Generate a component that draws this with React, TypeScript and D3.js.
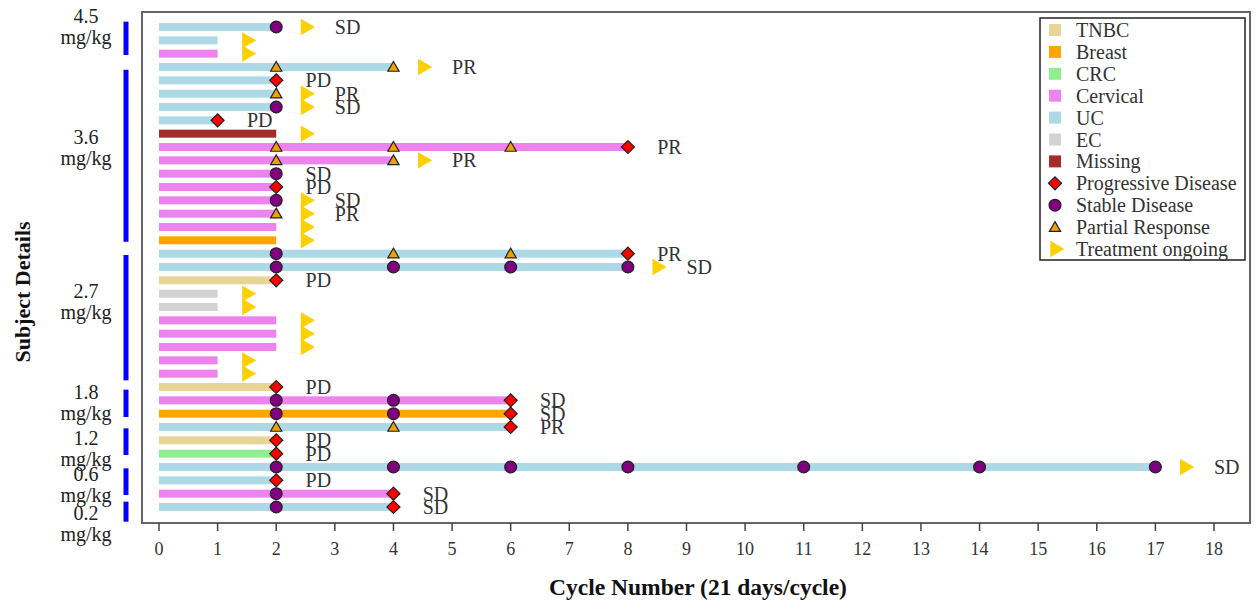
import React from "react";
import * as d3 from "d3";

// cancer types and colours
const cancerTypes = ["TNBC", "Breast", "CRC", "Cervical", "UC", "EC", "Missing"];
const typeColors = ["#E6D597", "#FFA500", "#90EE90", "#EE82EE", "#ADD8E6", "#D3D3D3", "#A52A2A"];

// one entry per subject, top to bottom
const subjectType = [
  "UC", "UC", "Cervical",
  "UC", "UC", "UC", "UC", "UC", "Missing", "Cervical", "Cervical", "Cervical", "Cervical", "Cervical", "Cervical", "Cervical", "Breast",
  "UC", "UC", "TNBC", "EC", "EC", "Cervical", "Cervical", "Cervical", "Cervical", "Cervical",
  "TNBC", "Cervical", "Breast", "UC",
  "TNBC", "CRC",
  "UC", "UC", "Cervical", "UC",
];
const subjectCycles = [
  2, 1, 1,
  4, 2, 2, 2, 1, 2, 8, 4, 2, 2, 2, 2, 2, 2,
  8, 8, 2, 1, 1, 2, 2, 2, 1, 1,
  2, 6, 6, 6,
  2, 2,
  17, 2, 4, 4,
];
// assessments: [cycle, response]
const subjectAssessments: [number, string][][] = [
  [[2, "SD"]], [], [],
  [[2, "PR"], [4, "PR"]], [[2, "PD"]], [[2, "PR"]], [[2, "SD"]], [[1, "PD"]], [],
  [[2, "PR"], [4, "PR"], [6, "PR"], [8, "PD"]], [[2, "PR"], [4, "PR"]], [[2, "SD"]], [[2, "PD"]], [[2, "SD"]], [[2, "PR"]], [], [],
  [[2, "SD"], [4, "PR"], [6, "PR"], [8, "PD"]], [[2, "SD"], [4, "SD"], [6, "SD"], [8, "SD"]], [[2, "PD"]], [], [], [], [], [], [], [],
  [[2, "PD"]], [[2, "SD"], [4, "SD"], [6, "PD"]], [[2, "SD"], [4, "SD"], [6, "PD"]], [[2, "PR"], [4, "PR"], [6, "PD"]],
  [[2, "PD"]], [[2, "PD"]],
  [[2, "SD"], [4, "SD"], [6, "SD"], [8, "SD"], [11, "SD"], [14, "SD"], [17, "SD"]], [[2, "PD"]], [[2, "SD"], [4, "PD"]], [[2, "SD"], [4, "PD"]],
];
const subjectOngoing = [
  true, true, true,
  true, false, true, true, false, true, false, true, false, false, true, true, true, true,
  false, true, false, true, true, true, true, true, true, true,
  false, false, false, false,
  false, false,
  true, false, false, false,
];
const subjectBestResponse = [
  "SD", "", "",
  "PR", "PD", "PR", "SD", "PD", "", "PR", "PR", "SD", "PD", "SD", "PR", "", "",
  "PR", "SD", "PD", "", "", "", "", "", "", "",
  "PD", "SD", "SD", "PR",
  "PD", "PD",
  "SD", "PD", "SD", "SD",
];

// dose groups (row units)
const doseLabels = ["4.5", "3.6", "2.7", "1.8", "1.2", "0.6", "0.2"];
const doseBarFrom = [-0.4, 3.2, 17.1, 27.2, 30.1, 33.1, 35.6];
const doseBarTo = [2.1, 16.1, 26.5, 29.25, 32.1, 35.1, 37.1];
const doseLabelRow = [-0.83, 8.25, 19.8, 27.4, 30.8, 33.5, 36.45];

const xTicks = d3.range(0, 19);

const legendItems = [
  ...cancerTypes.map((t) => ({ label: t, kind: "swatch", type: t })),
  { label: "Progressive Disease", kind: "PD", type: "" },
  { label: "Stable Disease", kind: "SD", type: "" },
  { label: "Partial Response", kind: "PR", type: "" },
  { label: "Treatment ongoing", kind: "ongoing", type: "" },
];

const font = "'Liberation Serif', 'Times New Roman', serif";

const color = d3.scaleOrdinal<string, string>().domain(cancerTypes).range(typeColors);

const diamond = d3.symbol(d3.symbolSquare, 85)();
const circle = d3.symbol(d3.symbolCircle, 110)();
const triangle = d3.symbol(d3.symbolTriangle, 55)();
const arrow = d3.symbol(d3.symbolTriangle, 115)();

function Marker({ kind, x, y }: { kind: string; x: number; y: number }) {
  if (kind === "PD")
    return <path d={diamond!} transform={`translate(${x},${y}) rotate(45)`} fill="#FF0000" stroke="#222" strokeWidth={1.2} />;
  if (kind === "SD")
    return <path d={circle!} transform={`translate(${x},${y})`} fill="#800080" stroke="#222" strokeWidth={1.2} />;
  if (kind === "PR")
    return <path d={triangle!} transform={`translate(${x},${y + 1})`} fill="#F0A000" stroke="#222" strokeWidth={1.2} />;
  return <path d={arrow!} transform={`translate(${x},${y}) rotate(90)`} fill="#FFD000" />;
}

export default function App() {
  const W = 1259, H = 601;
  const frame = { left: 142, top: 12, right: 1250, bottom: 523 };
  const x = d3.scaleLinear().domain([0, 18]).range([159, 1214]);
  const y = d3.scaleLinear().domain([0, 36]).range([27, 507]);
  const barH = 8;

  return (
    <svg width={W} height={H} style={{ position: "absolute", left: 0, top: 0, fontFamily: font }}>
      <rect x={0} y={0} width={W} height={H} fill="#fff" />
      {/* frame */}
      <rect x={frame.left} y={frame.top} width={frame.right - frame.left} height={frame.bottom - frame.top}
        fill="none" stroke="#666" strokeWidth={2} />

      {/* x axis */}
      {xTicks.map((t) => (
        <g key={t} transform={`translate(${x(t)},${frame.bottom})`}>
          <line y1={0} y2={8} stroke="#444" strokeWidth={1.5} />
          <text y={32} textAnchor="middle" fontSize={18} fill="#333">{t}</text>
        </g>
      ))}
      <text x={698} y={595} textAnchor="middle" fontSize={23.5} fontWeight="bold" fill="#111">
        Cycle Number (21 days/cycle)
      </text>
      <text transform={`translate(30,292) rotate(-90)`} textAnchor="middle" fontSize={22} fontWeight="bold" fill="#111">
        Subject Details
      </text>

      {/* dose groups */}
      {doseLabels.map((d, i) => (
        <g key={d}>
          <line x1={126} x2={126} y1={y(doseBarFrom[i])} y2={y(doseBarTo[i])} stroke="#0000FF" strokeWidth={5} />
          <text x={86} y={y(doseLabelRow[i])} dy="0.35em" textAnchor="middle" fontSize={20} fill="#222">{d}</text>
          <text x={86} y={y(doseLabelRow[i]) + 21} dy="0.35em" textAnchor="middle" fontSize={20} fill="#222">mg/kg</text>
        </g>
      ))}

      {/* subject bars */}
      {subjectType.map((t, i) => (
        <rect key={"b" + i} x={x(0)} y={y(i) - barH / 2} width={x(subjectCycles[i]) - x(0)} height={barH} fill={color(t)} />
      ))}
      {subjectOngoing.map((o, i) =>
        o ? <Marker key={"o" + i} kind="ongoing" x={x(subjectCycles[i] + 0.5)} y={y(i)} /> : null
      )}
      {subjectAssessments.map((list, i) =>
        list.map(([c, r], j) => <Marker key={`m${i}-${j}`} kind={r} x={x(c)} y={y(i)} />)
      )}
      {subjectBestResponse.map((r, i) =>
        r ? (
          <text key={"l" + i} x={x(subjectCycles[i] + (subjectOngoing[i] ? 1 : 0.5))} y={y(i)} dy="0.35em"
            fontSize={20} fill="#333">{r}</text>
        ) : null
      )}

      {/* legend */}
      <rect x={1040} y={18} width={205} height={242} fill="#fff" stroke="#222" strokeWidth={1.5} />
      {legendItems.map((it, i) => {
        const ly = 30 + i * 21.9;
        return (
          <g key={it.label}>
            {it.kind === "swatch" ? (
              <rect x={1049} y={ly - 6} width={12} height={12} fill={color(it.type)} />
            ) : (
              <Marker kind={it.kind} x={1055} y={ly} />
            )}
            <text x={1076} y={ly} dy="0.35em" fontSize={20} fill="#333">{it.label}</text>
          </g>
        );
      })}
    </svg>
  );
}
